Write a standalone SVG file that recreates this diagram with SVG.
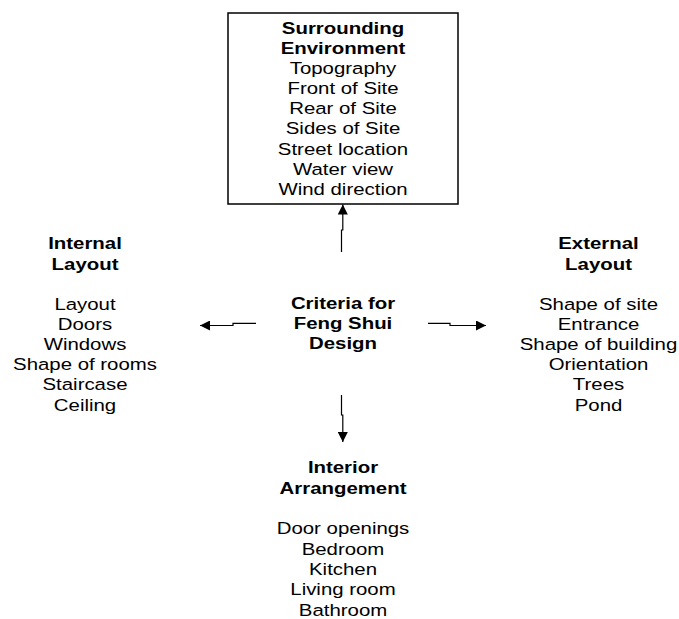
<svg xmlns="http://www.w3.org/2000/svg" width="679" height="619" viewBox="0 0 679 619">
<style>
text{font-family:"Liberation Sans",Arial,sans-serif;font-size:17px;text-anchor:middle;fill:#000}
.b{font-weight:bold}
.box{fill:#fff;stroke:#000;stroke-width:1.5}
.con{fill:none;stroke:#000;stroke-width:1.2}
</style>
<defs>
<marker id="ah" viewBox="0 0 10 10" refX="10" refY="5" markerWidth="11" markerHeight="10" markerUnits="userSpaceOnUse" orient="auto">
<path d="M0,0 L10,5 L0,10 z" fill="#000"/>
</marker>
</defs>
<rect width="679" height="619" fill="#fff"/>
<g id="surrounding">
<rect class="box" x="228" y="13" width="230" height="191"/>
<g transform="translate(343,0) scale(1.2,1)">
<text class="b" x="0" y="34">Surrounding</text>
<text class="b" x="0" y="54">Environment</text>
<text x="0" y="74">Topography</text>
<text x="0" y="94">Front of Site</text>
<text x="0" y="114">Rear of Site</text>
<text x="0" y="134">Sides of Site</text>
<text x="0" y="155">Street location</text>
<text x="0" y="175">Water view</text>
<text x="0" y="195">Wind direction</text>
</g>
</g>
<g id="criteria">
<g transform="translate(343,0) scale(1.2,1)">
<text class="b" x="0" y="309">Criteria for</text>
<text class="b" x="0" y="329">Feng Shui</text>
<text class="b" x="0" y="349">Design</text>
</g>
</g>
<g id="internal">
<g transform="translate(85,0) scale(1.2,1)">
<text class="b" x="0" y="249">Internal</text>
<text class="b" x="0" y="270">Layout</text>
<text x="0" y="310">Layout</text>
<text x="0" y="330">Doors</text>
<text x="0" y="350">Windows</text>
<text x="0" y="370">Shape of rooms</text>
<text x="0" y="390">Staircase</text>
<text x="0" y="411">Ceiling</text>
</g>
</g>
<g id="external">
<g transform="translate(598.5,0) scale(1.2,1)">
<text class="b" x="0" y="249">External</text>
<text class="b" x="0" y="270">Layout</text>
<text x="0" y="310">Shape of site</text>
<text x="0" y="330">Entrance</text>
<text x="0" y="350">Shape of building</text>
<text x="0" y="370">Orientation</text>
<text x="0" y="390">Trees</text>
<text x="0" y="411">Pond</text>
</g>
</g>
<g id="interior">
<g transform="translate(343,0) scale(1.2,1)">
<text class="b" x="0" y="473">Interior</text>
<text class="b" x="0" y="494">Arrangement</text>
<text x="0" y="534">Door openings</text>
<text x="0" y="555">Bedroom</text>
<text x="0" y="575">Kitchen</text>
<text x="0" y="595">Living room</text>
<text x="0" y="616">Bathroom</text>
</g>
</g>
<g id="connectors">
<path class="con" d="M341.5,252 V230 H342.8 V204.5" marker-end="url(#ah)"/>
<path class="con" d="M341.5,395 V415 H342.8 V442" marker-end="url(#ah)"/>
<path class="con" d="M256,323.3 H233 V325.5 H200" marker-end="url(#ah)"/>
<path class="con" d="M428,323.3 H450 V325.5 H486" marker-end="url(#ah)"/>
</g>
</svg>
